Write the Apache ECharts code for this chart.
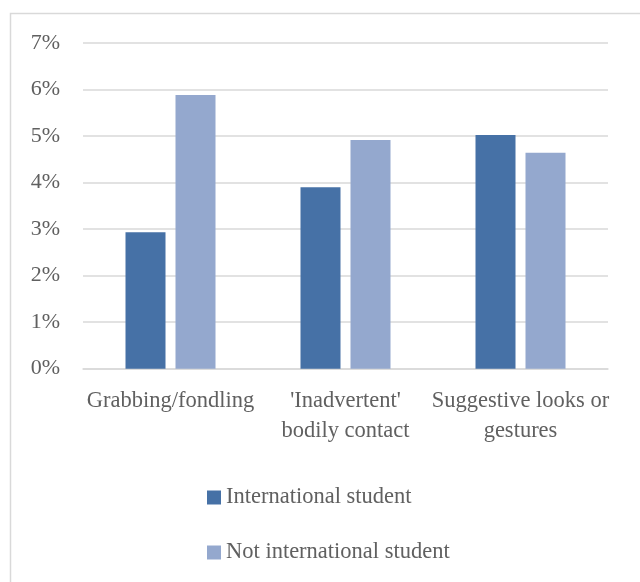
<!DOCTYPE html>
<html>
<head>
<meta charset="utf-8">
<script src="https://cdn.jsdelivr.net/npm/echarts@6/dist/echarts.min.js"></script>
<style>html,body{margin:0;padding:0;background:#fff;}#c{width:640px;height:582px;}</style>
</head>
<body>
<div id="c"></div>
<script>
const categories = ["Grabbing/fondling", "'Inadvertent'\nbodily contact", "Suggestive looks or\ngestures"];
const seriesNames = ["International student", "Not international student"];
const international = [2.93, 3.90, 5.02];
const notInternational = [5.88, 4.91, 4.64];
const yTicks = { min: 0, max: 7, interval: 1 };

const FONT = "'Liberation Serif', 'DejaVu Serif', serif";
const TXT = '#606060';
const chart = echarts.init(document.getElementById('c'), null, { renderer: 'canvas' });
chart.setOption({
  animation: false,
  backgroundColor: '#fff',
  graphic: [{
    type: 'rect', z: -1,
    shape: { x: 10.5, y: 13.5, width: 660, height: 600 },
    style: { fill: 'none', stroke: '#d9d9d9', lineWidth: 1.5 }
  }],
  grid: { left: 83, right: 32, top: 42.8, bottom: 213.3, containLabel: false },
  legend: {
    orient: 'vertical', left: 202, top: 481,
    itemWidth: 14, itemHeight: 14, itemGap: 32,
    icon: 'rect',
    textStyle: { fontFamily: FONT, fontSize: 22.5, color: TXT },
    data: seriesNames
  },
  xAxis: {
    type: 'category', data: categories,
    axisLine: { show: true, lineStyle: { color: '#d9d9d9', width: 1.5 } },
    axisTick: { show: false },
    axisLabel: { interval: 0, margin: 17, fontFamily: FONT, fontSize: 22.5, color: TXT, lineHeight: 30, align: 'center' }
  },
  yAxis: {
    type: 'value', min: yTicks.min, max: yTicks.max, interval: yTicks.interval,
    axisLine: { show: false }, axisTick: { show: false },
    splitLine: { lineStyle: { color: '#d9d9d9', width: 1.5 } },
    axisLabel: { margin: 23, fontFamily: FONT, fontSize: 22, color: TXT, formatter: '{value}%' }
  },
  series: [
    { name: seriesNames[0], type: 'bar', data: international, barWidth: 40, barGap: '25%',
      itemStyle: { color: '#4671A6' } },
    { name: seriesNames[1], type: 'bar', data: notInternational, barWidth: 40, barGap: '25%',
      itemStyle: { color: '#94A8CE' } }
  ]
});
</script>
</body>
</html>
